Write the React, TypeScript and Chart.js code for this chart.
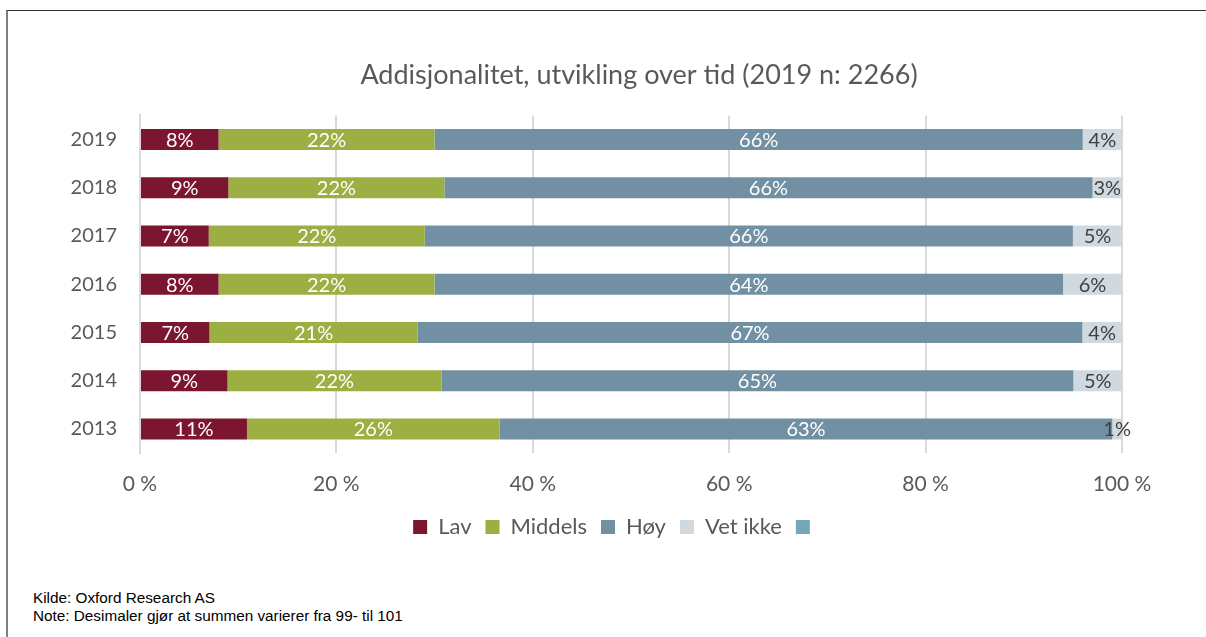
import React, { useEffect, useRef } from "react";
import { Chart, registerables } from "chart.js";

Chart.register(...registerables);

const years = ["2019", "2018", "2017", "2016", "2015", "2014", "2013"];
const seriesNames = ["Lav", "Middels", "Høy", "Vet ikke", ""];
const lav = [8, 9, 7, 8, 7, 9, 11];
const middels = [22, 22, 22, 22, 21, 22, 26];
const hoy = [66, 66, 66, 64, 67, 65, 63];
const vetIkke = [4, 3, 5, 6, 4, 5, 1];
const blank = [0, 0, 0, 0, 0, 0, 0];
const xTicks = [0, 20, 40, 60, 80, 100];

const colors = ["#7B1530", "#9BAF42", "#7290A3", "#D0D9E0", "#72A8B9"];
const labelColors = ["#FFFFFF", "#FFFFFF", "#FFFFFF", "#404040", "#404040"];
const FONT = "Lato, 'Open Sans', sans-serif";
const TEXT = "#595959";

const raw = [lav, middels, hoy, vetIkke, blank];
const totals = years.map((_, i) => raw.reduce((s, arr) => s + arr[i], 0));

const labelPlugin = {
  id: "barLabels",
  afterDatasetsDraw(chart: any) {
    const ctx = chart.ctx;
    ctx.save();
    ctx.font = `20px ${FONT}`;
    ctx.textAlign = "center";
    ctx.textBaseline = "middle";
    chart.data.datasets.forEach((_ds: any, di: number) => {
      const meta = chart.getDatasetMeta(di);
      meta.data.forEach((el: any, i: number) => {
        const v = raw[di][i];
        if (!v) return;
        const p = el.getProps(["x", "base", "y"], true);
        ctx.fillStyle = labelColors[di];
        ctx.fillText(v + "%", (p.x + p.base) / 2, p.y + 1);
      });
    });
    ctx.restore();
  },
};

// shift title and legend horizontally so they are centred like the original
const shiftPlugin = {
  id: "shiftBlocks",
  afterLayout(chart: any) {
    const t = chart.titleBlock;
    if (t) {
      t.left += 78;
      t.right += 78;
    }
    const l = chart.legend;
    if (l) {
      l.left += 56;
      l.right += 56;
    }
  },
};

function BarChart() {
  const ref = useRef<HTMLCanvasElement>(null);
  useEffect(() => {
    if (!ref.current) return;
    const chart = new Chart(ref.current, {
      type: "bar",
      data: {
        labels: years,
        datasets: raw.map((arr, di) => ({
          label: seriesNames[di],
          data: arr.map((v, i) => (v / totals[i]) * 100),
          backgroundColor: colors[di],
          borderWidth: 0,
          barPercentage: 0.87,
          categoryPercentage: 0.5,
        })),
      },
      options: {
        indexAxis: "y",
        animation: false,
        responsive: false,
        maintainAspectRatio: false,
        events: [],
        layout: { padding: { left: 0, right: 84, top: 0, bottom: 4 } },
        plugins: {
          title: {
            display: true,
            text: "Addisjonalitet, utvikling over tid (2019 n: 2266)",
            color: TEXT,
            font: { family: FONT, size: 27, weight: "normal" },
            padding: { top: 59, bottom: 24 },
          },
          legend: {
            position: "bottom",
            labels: {
              boxWidth: 14,
              boxHeight: 14,
              padding: 14,
              color: TEXT,
              font: { family: FONT, size: 22 },
            },
          },
          tooltip: { enabled: false },
        },
        scales: {
          x: {
            stacked: true,
            min: 0,
            max: 100,
            afterFit: (s: any) => {
              s.height = 49;
            },
            afterBuildTicks: (s: any) => {
              s.ticks = xTicks.map((v) => ({ value: v }));
            },
            ticks: {
              color: TEXT,
              font: { family: FONT, size: 21 },
              padding: 19,
              callback: (v: any) => v + " %",
            },
            grid: { color: "#D9D9D9", lineWidth: 2, drawTicks: false },
            border: { display: false },
          },
          y: {
            stacked: true,
            afterFit: (s: any) => {
              s.width = 140;
            },
            ticks: {
              color: TEXT,
              font: { family: FONT, size: 20 },
              padding: 23,
            },
            grid: { display: false, drawTicks: false },
            border: { display: true, color: "#D9D9D9", width: 2 },
          },
        },
      },
      plugins: [labelPlugin, shiftPlugin],
    } as any);
    return () => chart.destroy();
  }, []);
  return (
    <canvas
      ref={ref}
      width={1206}
      height={552}
      style={{ position: "absolute", left: 0, top: 0, width: 1206, height: 552 }}
    />
  );
}

export default function App() {
  return (
    <div
      style={{
        position: "absolute",
        left: 0,
        top: 0,
        width: 1206,
        height: 637,
        overflow: "hidden",
        background: "#fff",
      }}
    >
      <div
        style={{
          position: "absolute",
          left: 6,
          top: 10,
          width: 1220,
          height: 700,
          borderTop: "1px solid #333333",
          borderLeft: "2px solid #808080",
        }}
      />
      <BarChart />
      <div
        style={{
          position: "absolute",
          left: 33,
          top: 589,
          fontFamily: "'Liberation Sans', Arial, sans-serif",
          fontSize: 15.3,
          lineHeight: "18px",
          color: "#000",
        }}
      >
        <div>Kilde: Oxford Research AS</div>
        <div>Note: Desimaler gjør at summen varierer fra 99- til 101</div>
      </div>
    </div>
  );
}
